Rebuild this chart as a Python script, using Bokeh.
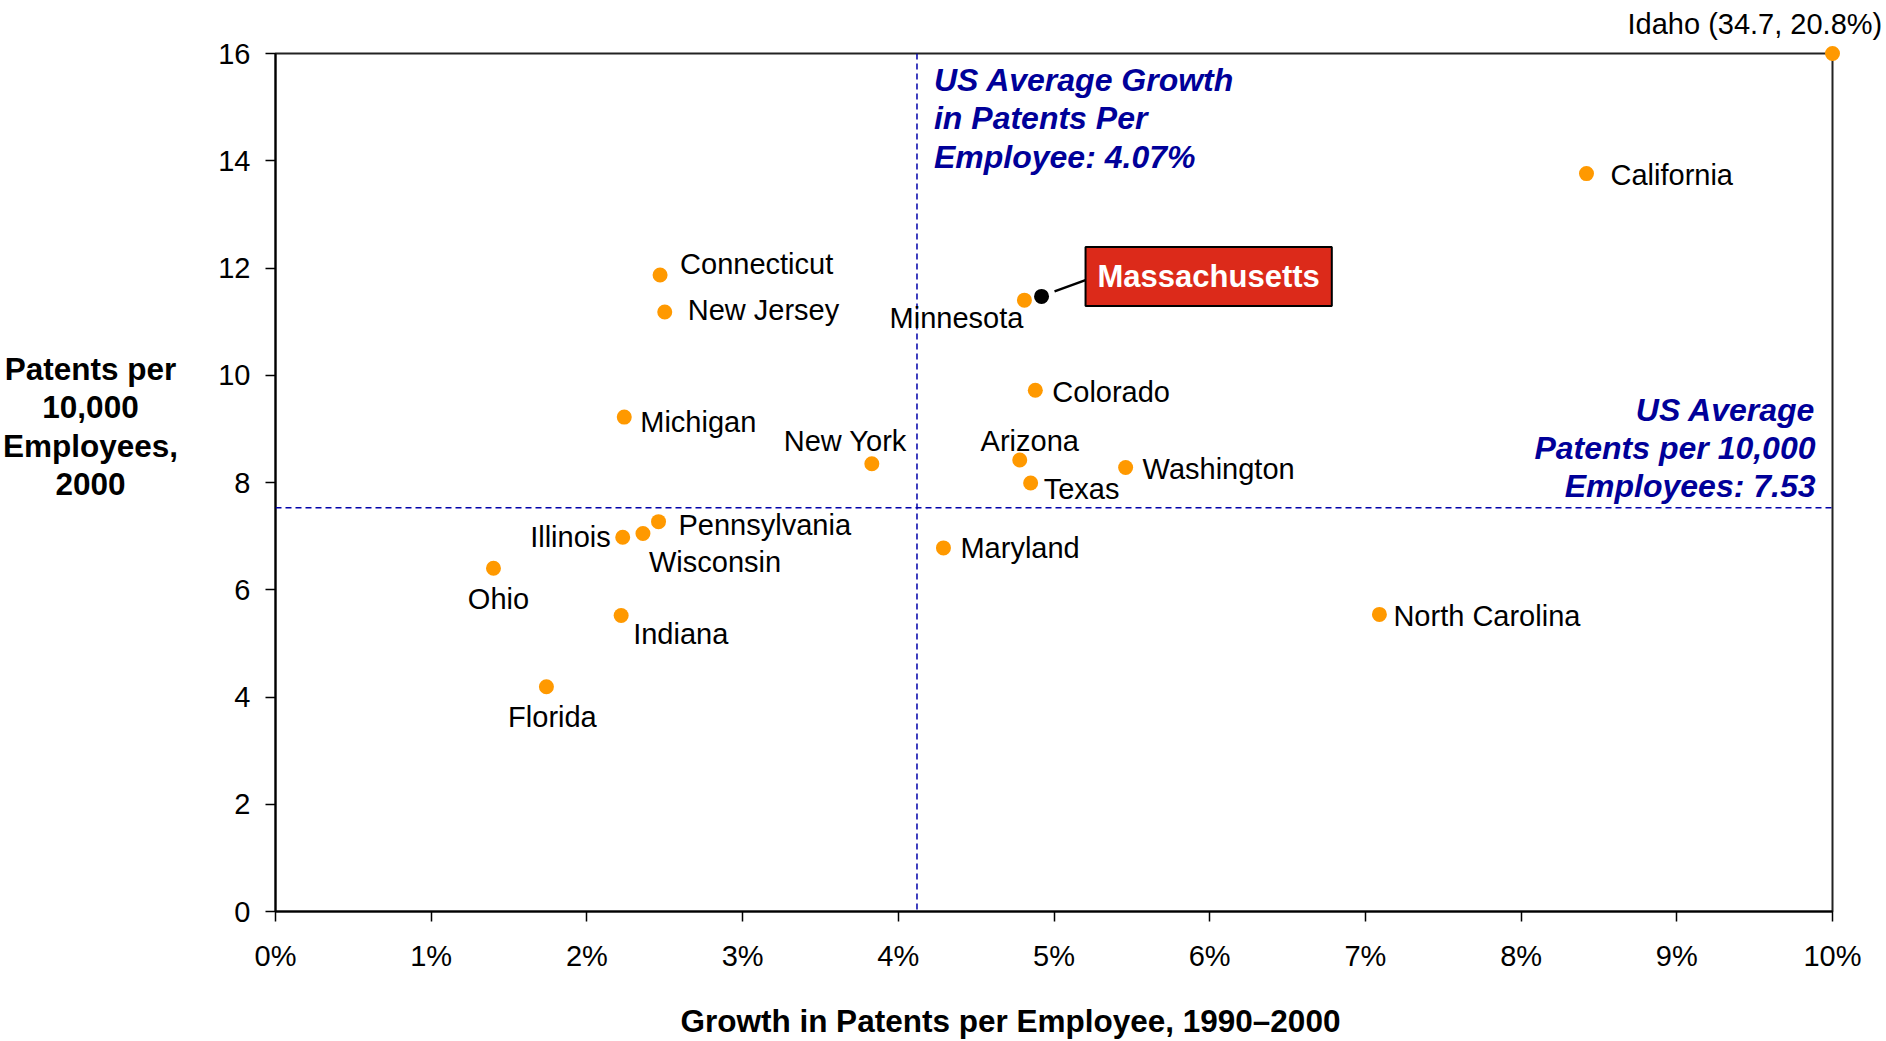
from bokeh.plotting import figure
from bokeh.models import ColumnDataSource, Label, Span, FixedTicker, Segment
from bokeh.core.properties import field, value
from bokeh.embed import file_html
from bokeh.resources import INLINE

# ---------------- data ----------------
states = ["Idaho", "California", "Connecticut", "New Jersey", "Minnesota", "Michigan",
          "Colorado", "New York", "Arizona", "Washington", "Texas", "Pennsylvania",
          "Wisconsin", "Illinois", "Maryland", "Ohio", "North Carolina", "Indiana", "Florida"]
growth_pct = [20.8, 8.42, 2.47, 2.50, 4.81, 2.24, 4.88, 3.83, 4.78, 5.46, 4.85, 2.46,
              2.36, 2.23, 4.29, 1.40, 7.09, 2.22, 1.74]
patents_per_10k = [34.7, 13.76, 11.87, 11.18, 11.40, 9.22, 9.72, 8.35, 8.42, 8.28, 7.99, 7.27,
                   7.05, 6.98, 6.78, 6.40, 5.54, 5.52, 4.19]

highlight_state = "Massachusetts"
highlight_growth = 4.92
highlight_patents = 11.47

us_avg_growth_label = 4.07      # as printed
us_avg_growth_line = 4.12       # where the dashed line is drawn
us_avg_patents = 7.53

x_ticks = [0, 1, 2, 3, 4, 5, 6, 7, 8, 9, 10]
x_tick_labels = ["0%", "1%", "2%", "3%", "4%", "5%", "6%", "7%", "8%", "9%", "10%"]
y_ticks = [0, 2, 4, 6, 8, 10, 12, 14, 16]
x_max = 10
y_max = 16

x_title = "Growth in Patents per Employee, 1990\u20132000"
y_title = "Patents per\n10,000\nEmployees,\n2000"

# ---------------- label placement (style, px) ----------------
label_place = {
    "Idaho": ("left", -205, 30),
    "California": ("left", 24, -1),
    "Connecticut": ("left", 20, 11),
    "New Jersey": ("left", 23, 2),
    "Minnesota": ("right", -1, -18),
    "Michigan": ("left", 16, -5),
    "Colorado": ("left", 17, -2),
    "New York": ("right", 35, 23),
    "Arizona": ("center", 10, 19),
    "Washington": ("left", 17, -2),
    "Texas": ("left", 13, -6),
    "Pennsylvania": ("left", 20, -3),
    "Wisconsin": ("left", 6, -29),
    "Illinois": ("right", -12, 0),
    "Maryland": ("left", 17, 0),
    "Ohio": ("center", 5, -31),
    "North Carolina": ("left", 14, -2),
    "Indiana": ("left", 12, -19),
    "Florida": ("center", 6, -30),
}

FONT = "Liberation Sans"
NAVY = "#000099"
ORANGE = "#FF9900"

W, H = 1884, 1040
BL, BT = 275, 53
BR = W - 1832
BB = H - 911

p = figure(width=W, height=H, output_backend="svg", toolbar_location=None,
           x_range=(0, x_max), y_range=(0, y_max),
           min_border_left=BL, min_border_right=BR, min_border_top=BT, min_border_bottom=BB)
p.grid.visible = False
p.background_fill_color = "white"
p.border_fill_color = "white"
p.outline_line_color = "#222222"
p.outline_line_width = 2

# axes
p.xaxis.ticker = FixedTicker(ticks=x_ticks)
p.xaxis.major_label_overrides = {t: l for t, l in zip(x_ticks, x_tick_labels)}
p.yaxis.ticker = FixedTicker(ticks=y_ticks)
for ax in (p.xaxis, p.yaxis):
    ax.axis_line_color = "black"
    ax.axis_line_width = 2
    ax.major_tick_line_color = "black"
    ax.major_tick_line_width = 1.5
    ax.major_tick_out = 10
    ax.major_tick_in = 0
    ax.minor_tick_line_color = None
    ax.major_label_text_font = FONT
    ax.major_label_text_font_size = "29px"
    ax.major_label_text_color = "black"
p.yaxis.major_label_standoff = 15
p.xaxis.major_label_standoff = 18

# reference lines
p.add_layout(Span(location=us_avg_growth_line, dimension="height", line_color="#0000AA",
                  line_width=1.5, line_dash="6 4"))
p.add_layout(Span(location=us_avg_patents, dimension="width", line_color="#0000AA",
                  line_width=1.5, line_dash="6 4"))

# points (clipped to axis maximum, as in the original)
disp_x = [min(g, x_max) for g in growth_pct]
disp_y = [min(v, y_max) for v in patents_per_10k]
texts = []
for s, g, v in zip(states, growth_pct, patents_per_10k):
    if g > x_max or v > y_max:
        texts.append(f"{s} ({v}, {g}%)")
    else:
        texts.append(s)

src = ColumnDataSource(dict(
    x=disp_x, y=disp_y, text=texts,
    align=[label_place[s][0] for s in states],
    dx=[label_place[s][1] for s in states],
    dy=[-label_place[s][2] for s in states],
))
r = p.scatter("x", "y", source=src, size=15, fill_color=ORANGE, line_color=None)
r.level = "overlay"

tr = p.text(x="x", y="y", text="text", source=src,
            x_offset="dx", y_offset="dy",
            text_align=field("align"), text_baseline="middle",
            text_font=value(FONT), text_font_size="29px", text_color="black")
tr.level = "overlay"

# highlighted state
hsrc = ColumnDataSource(dict(x=[highlight_growth], y=[highlight_patents]))
hr = p.scatter("x", "y", source=hsrc, size=15, fill_color="black", line_color=None)
hr.level = "overlay"

px_per_x = (W - BL - BR) / x_max
px_per_y = (H - BT - BB) / y_max
lead = ColumnDataSource(dict(
    x0=[highlight_growth + 13 / px_per_x], y0=[highlight_patents + 5 / px_per_y],
    x1=[highlight_growth + 46 / px_per_x], y1=[highlight_patents + 17 / px_per_y]))
p.add_glyph(lead, Segment(x0="x0", y0="y0", x1="x1", y1="y1", line_color="black", line_width=2.5))

p.add_layout(Label(x=highlight_growth, y=highlight_patents, x_offset=44, y_offset=20,
                   text=highlight_state, text_align="left", text_baseline="middle",
                   text_font=FONT, text_font_size="31px", text_font_style="bold",
                   text_color="white", background_fill_color="#DC2A1A",
                   border_line_color="black", border_line_width=2, padding=12))

# annotations for averages
p.add_layout(Label(x=us_avg_growth_line, y=y_max, x_offset=17, y_offset=-65,
                   text=f"US Average Growth\nin Patents Per\nEmployee: {us_avg_growth_label:.2f}%",
                   text_align="left", text_baseline="middle", text_line_height=1.06,
                   text_font=FONT, text_font_size="32px", text_font_style="bold italic",
                   text_color=NAVY))
p.add_layout(Label(x=x_max, y=us_avg_patents, x_offset=-17, y_offset=60,
                   text=f"US Average\nPatents per 10,000\nEmployees: {us_avg_patents:.2f}",
                   text_align="right", text_baseline="middle", text_line_height=1.06,
                   text_font=FONT, text_font_size="32px", text_font_style="bold italic",
                   text_color=NAVY))

# axis titles (drawn as overlay text so they are not clipped to the frame)
tsrc = ColumnDataSource(dict(
    x=[0, 4.72], y=[y_max / 2, 0], text=[y_title, x_title],
    dx=[-185, 0], dy=[-56, 109]))
tt = p.text(x="x", y="y", text="text", source=tsrc, x_offset="dx", y_offset="dy",
            text_align="center", text_baseline="middle", text_line_height=1.06,
            text_font=value(FONT), text_font_size="31.5px", text_font_style="bold",
            text_color="black")
tt.level = "overlay"

open("out.html", "w").write(file_html(p, INLINE))
